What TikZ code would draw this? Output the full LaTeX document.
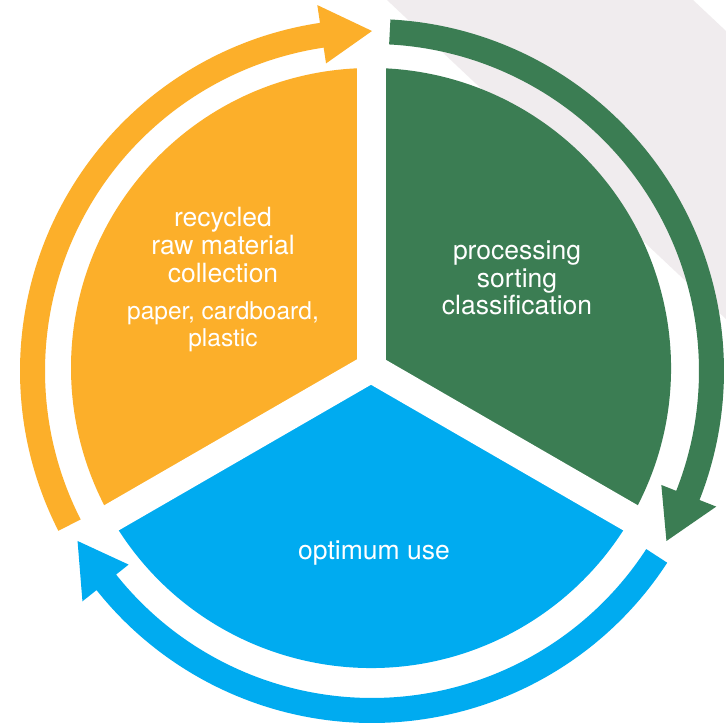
\documentclass[tikz,border=0pt]{standalone}
\usepackage{fontspec}
\setmainfont{TeX Gyre Heros}
\definecolor{orangeC}{RGB}{252,175,42}
\definecolor{greenC}{RGB}{59,125,83}
\definecolor{blueC}{RGB}{0,171,240}
\definecolor{bggray}{RGB}{240,236,238}
\newcommand{\ringarrow}[2]{%
  \pgfmathsetmacro{\bA}{#2-108.5}%
  \pgfmathsetmacro{\tA}{#2-117}%
  \fill[#1] (#2:352pt) arc[start angle=#2, end angle=\bA, radius=352pt]
    -- (\bA:370pt) -- (\tA:340pt) -- (\bA:311pt) -- (\bA:327pt)
    arc[start angle=\bA, end angle=#2, radius=327pt] -- cycle;
}
\begin{document}
\begin{tikzpicture}[x=1pt,y=1pt,
  txt/.style={text=white, inner sep=0pt, anchor=base, font=\fontsize{26.5}{28}\selectfont},
  subtxt/.style={txt, font=\fontsize{24.5}{28}\selectfont},
  gap/.style={white, line width=29pt}]
\useasboundingbox (0,0) rectangle (726,723);
\fill[white] (0,0) rectangle (726,723);
\fill[bggray] (387,723) -- (693,723) -- (726,692) -- (726,404) -- cycle;
% sectors
\begin{scope}[shift={(371,355)}]
  \fill[orangeC] (0,0) -- (90:300pt) arc[start angle=90, end angle=210, radius=300pt] -- cycle;
  \fill[blueC] (0,0) -- (210:300pt) arc[start angle=210, end angle=330, radius=300pt] -- cycle;
  \fill[greenC] (0,0) -- (-30:300pt) arc[start angle=-30, end angle=90, radius=300pt] -- cycle;
  \draw[gap] (0,0) -- (90:304pt);
  \draw[gap] (0,0) -- (210:304pt);
  \draw[gap] (0,0) -- (330:304pt);
\end{scope}
% ring arrows
\begin{scope}[shift={(372,352)}]
  \ringarrow{orangeC}{207}
  \ringarrow{greenC}{87}
  \ringarrow{blueC}{-33}
\end{scope}
% texts
\node[txt] (o1) at (223,496) {recycled};
\node[txt] (o2) at (223,468) {raw material};
\node[txt] (o3) at (223,440) {collection};
\node[subtxt] (o4) at (223,403) {paper, cardboard,};
\node[subtxt] (o5) at (223,376) {plastic};
\node[txt] (g1) at (517,463) {processing};
\node[txt] (g2) at (517,435) {sorting};
\node[txt] (g3) at (517,408) {classification};
\node[txt] (b1) at (374,163) {optimum use};
\end{tikzpicture}
\end{document}
